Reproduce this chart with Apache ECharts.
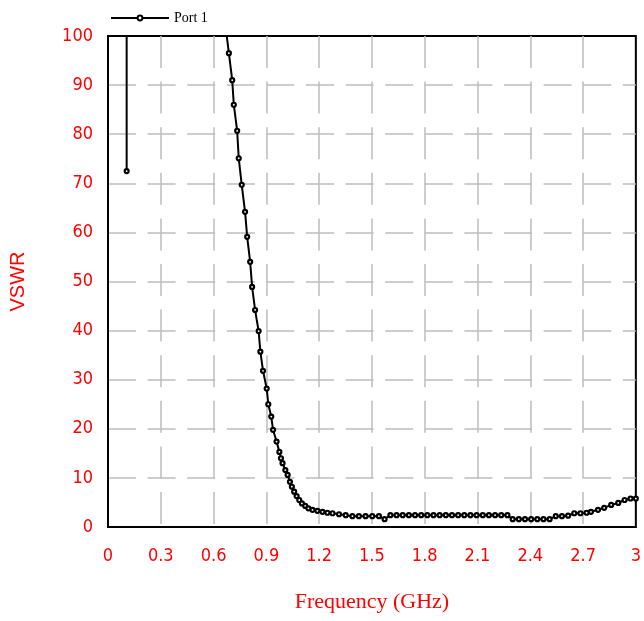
<!DOCTYPE html>
<html>
<head>
<meta charset="utf-8">
<script src="https://cdn.jsdelivr.net/npm/echarts@6/dist/echarts.min.js"></script>
<style>
html,body{margin:0;padding:0;background:#fff;}
#chart{width:644px;height:621px;}
</style>
</head>
<body>
<div id="chart"></div>
<script>
// Port 1 VSWR, main sweep segment: frequency (GHz) and VSWR
const mainFreq = [
  0.668, 0.687, 0.706, 0.715, 0.734, 0.743, 0.760, 0.779, 0.791, 0.808,
  0.819, 0.836, 0.856, 0.866, 0.881, 0.902, 0.911, 0.928, 0.938, 0.958,
  0.974, 0.983, 0.992, 1.008, 1.021, 1.034, 1.045, 1.058, 1.072, 1.087,
  1.102, 1.121, 1.139, 1.162, 1.190, 1.219, 1.247, 1.276, 1.313, 1.351,
  1.389, 1.426, 1.464, 1.502, 1.540, 1.572, 1.605, 1.640, 1.675, 1.710,
  1.745, 1.780, 1.815, 1.850, 1.885, 1.920, 1.955, 1.990, 2.025, 2.060,
  2.095, 2.130, 2.165, 2.200, 2.235, 2.270, 2.300, 2.335, 2.370, 2.405,
  2.440, 2.475, 2.510, 2.545, 2.580, 2.615, 2.650, 2.685, 2.720, 2.745,
  2.785, 2.820, 2.860, 2.900, 2.936, 2.970, 3.000
];
const mainVswr = [
  102, 96.5, 91.0, 86.0, 80.7, 75.1, 69.7, 64.2, 59.1, 54.0,
  48.9, 44.2, 39.9, 35.7, 31.8, 28.2, 25.0, 22.5, 19.8, 17.4,
  15.3, 14.0, 13.0, 11.6, 10.6, 9.2, 8.2, 7.2, 6.3, 5.5,
  4.8, 4.3, 3.8, 3.5, 3.3, 3.1, 2.9, 2.8, 2.6, 2.4,
  2.2, 2.2, 2.2, 2.2, 2.2, 1.6, 2.4, 2.4, 2.4, 2.4,
  2.4, 2.4, 2.4, 2.4, 2.4, 2.4, 2.4, 2.4, 2.4, 2.4,
  2.4, 2.4, 2.4, 2.4, 2.4, 2.4, 1.6, 1.6, 1.6, 1.6,
  1.6, 1.6, 1.6, 2.2, 2.2, 2.3, 2.8, 2.8, 2.9, 3.1,
  3.5, 3.9, 4.5, 4.9, 5.5, 5.8, 5.8
];
// Low-frequency spike segment (runs off the top of the plot)
const spikeFreq = [0.1058, 0.106, 0.1062];
const spikeVswr = [600, 72.5, 600];

const xTicks = { min: 0, max: 3, interval: 0.3 };
const yTicks = { min: 0, max: 100, interval: 10 };

const pair = (fs, vs) => fs.map((f, i) => [f, vs[i]]);

const red = '#ff0000';
const tickFont = '"Liberation Sans Narrow", "DejaVu Sans Condensed", sans-serif';

const lineSeries = (data) => ({
  name: 'Port 1',
  type: 'line',
  data: data,
  showAllSymbol: true,
  symbol: 'circle',
  symbolSize: 4,
  clip: true,
  lineStyle: { color: '#000', width: 2 },
  itemStyle: { color: '#fff', borderColor: '#000', borderWidth: 2.2 },
  emphasis: { disabled: true }
});

const chart = echarts.init(document.getElementById('chart'));
chart.setOption({
  animation: false,
  backgroundColor: '#fff',
  legend: {
    left: 105,
    top: 6,
    itemWidth: 58,
    itemHeight: 6,
    itemGap: 10,
    textStyle: { color: '#000', fontSize: 14, fontFamily: '"Liberation Serif", serif' },
    data: ['Port 1']
  },
  grid: {
    left: 108, right: 6, top: 36, bottom: 94,
    show: true, borderColor: '#000', borderWidth: 2, backgroundColor: 'transparent'
  },
  xAxis: {
    type: 'value',
    min: xTicks.min, max: xTicks.max, interval: xTicks.interval,
    name: 'Frequency (GHz)',
    nameLocation: 'middle',
    nameGap: 64,
    nameTextStyle: { color: red, fontSize: 22, fontFamily: '"Liberation Serif", serif' },
    axisLine: { show: true, lineStyle: { color: '#000', width: 2 } },
    axisTick: { show: false },
    axisLabel: {
      color: red, fontSize: 18, fontFamily: tickFont, margin: 20,
      formatter: v => String(+v.toFixed(1))
    },
    splitLine: {
      show: true, showMinLine: false, showMaxLine: false,
      lineStyle: { color: '#bdbdbd', width: 1.5, type: [32, 13.6] }
    }
  },
  yAxis: {
    type: 'value',
    min: yTicks.min, max: yTicks.max, interval: yTicks.interval,
    name: 'VSWR',
    nameLocation: 'middle',
    nameGap: 80,
    nameTextStyle: { color: red, fontSize: 20, fontFamily: '"Liberation Sans", sans-serif' },
    axisLine: { show: true, lineStyle: { color: '#000', width: 2 } },
    axisTick: { show: false },
    axisLabel: { color: red, fontSize: 18, fontFamily: tickFont, margin: 15 },
    splitLine: {
      show: true, showMinLine: false, showMaxLine: false,
      lineStyle: { color: '#bdbdbd', width: 1.5, type: [28, 11.6] }
    }
  },
  series: [
    lineSeries(pair(mainFreq, mainVswr)),
    lineSeries(pair(spikeFreq, spikeVswr))
  ]
});
</script>
</body>
</html>
